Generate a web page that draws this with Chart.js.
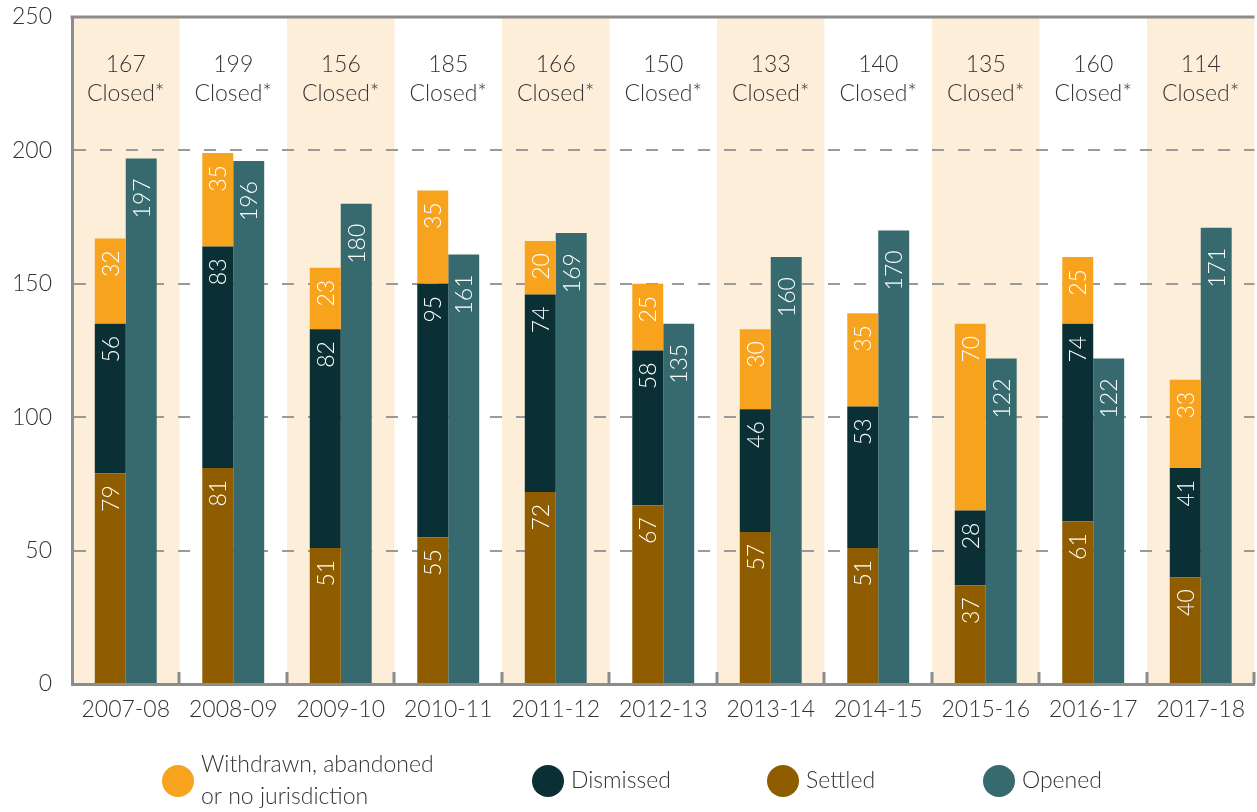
<!DOCTYPE html>
<html>
<head>
<meta charset="utf-8">
<script src="https://cdn.jsdelivr.net/npm/chart.js@4/dist/chart.umd.min.js"></script>
<style>
  html, body { margin: 0; padding: 0; background: #fff; }
  #wrap { width: 1257px; height: 812px; }
</style>
</head>
<body>
<div id="wrap"><canvas id="chart" width="1257" height="812"></canvas></div>
<script>
// data
const years = ['2007-08', '2008-09', '2009-10', '2010-11', '2011-12', '2012-13', '2013-14', '2014-15', '2015-16', '2016-17', '2017-18'];
const settled = [79, 81, 51, 55, 72, 67, 57, 51, 37, 61, 40];
const dismissed = [56, 83, 82, 95, 74, 58, 46, 53, 28, 74, 41];
const withdrawn = [32, 35, 23, 35, 20, 25, 30, 35, 70, 25, 33];
const opened = [197, 196, 180, 161, 169, 135, 160, 170, 122, 122, 171];
const closedTotals = [167, 199, 156, 185, 166, 150, 133, 140, 135, 160, 114];
const yTicks = [0, 50, 100, 150, 200, 250];

const FONT = 'Lato, "Open Sans", sans-serif';
const WEIGHT = '300';
const TEXT = '#333333';
const AXIS = '#8c8c8c';
const BAND = '#fdeeda';

const colors = {
  withdrawn: '#f8a31e',
  dismissed: '#0a3035',
  settled: '#8f5d00',
  opened: '#376a6e'
};

// legend entries (label lines + x position of the dot)
const legendItems = [
  { lines: ['Withdrawn, abandoned', 'or no jurisdiction'], color: colors.withdrawn, x: 178 },
  { lines: ['Dismissed'], color: colors.dismissed, x: 548 },
  { lines: ['Settled'], color: colors.settled, x: 783 },
  { lines: ['Opened'], color: colors.opened, x: 999 }
];

// alternating shaded columns + top "Closed*" captions
const bandsPlugin = {
  id: 'bands',
  beforeDraw(chart) {
    const { ctx, chartArea, scales } = chart;
    const xs = scales.x;
    const cw = xs.getPixelForValue(1) - xs.getPixelForValue(0);
    ctx.save();
    ctx.fillStyle = BAND;
    years.forEach((y, i) => {
      if (i % 2 !== 0) return;
      const cx = xs.getPixelForValue(i);
      const left = Math.max(cx - cw / 2, chartArea.left);
      const right = Math.min(cx + cw / 2, chartArea.right);
      ctx.fillRect(left, chartArea.top, right - left, chartArea.bottom - chartArea.top);
    });
    ctx.restore();
  },
  afterDraw(chart) {
    const { ctx, chartArea, scales } = chart;
    const xs = scales.x;
    const cw = xs.getPixelForValue(1) - xs.getPixelForValue(0);
    ctx.save();
    // top frame line
    ctx.strokeStyle = AXIS;
    ctx.lineWidth = 3;
    ctx.beginPath();
    ctx.moveTo(chartArea.left - 1.5, chartArea.top);
    ctx.lineTo(chartArea.right, chartArea.top);
    ctx.stroke();
    // little ticks between categories on the x axis
    for (let i = 1; i <= years.length; i++) {
      const bx = Math.round(xs.getPixelForValue(i - 1) + cw / 2);
      ctx.beginPath();
      ctx.moveTo(bx, chartArea.bottom);
      ctx.lineTo(bx, chartArea.bottom - 12);
      ctx.stroke();
    }
    // captions
    ctx.fillStyle = TEXT;
    ctx.font = WEIGHT + ' 23px ' + FONT;
    ctx.textAlign = 'center';
    ctx.textBaseline = 'middle';
    closedTotals.forEach((v, i) => {
      const cx = xs.getPixelForValue(i);
      ctx.fillText(String(v), cx, chartArea.top + 48);
      ctx.fillText('Closed*', cx, chartArea.top + 77);
    });
    // legend
    ctx.textAlign = 'left';
    const ly = 781;
    legendItems.forEach(item => {
      ctx.fillStyle = item.color;
      ctx.beginPath();
      ctx.arc(item.x, ly, 16, 0, Math.PI * 2);
      ctx.fill();
      ctx.fillStyle = TEXT;
      const n = item.lines.length;
      item.lines.forEach((line, k) => {
        ctx.fillText(line, item.x + 23, ly + (k - (n - 1) / 2) * 32);
      });
    });
    ctx.restore();
  }
};

// white rotated numbers inside the bars
const valueLabels = {
  id: 'valueLabels',
  afterDatasetsDraw(chart) {
    const { ctx } = chart;
    ctx.save();
    ctx.fillStyle = '#ffffff';
    ctx.font = WEIGHT + ' 23px ' + FONT;
    ctx.textAlign = 'right';
    ctx.textBaseline = 'middle';
    chart.data.datasets.forEach((ds, di) => {
      const meta = chart.getDatasetMeta(di);
      const gap = ds.stack === 'opened' ? 20 : 12;
      meta.data.forEach((bar, i) => {
        const p = bar.getProps(['x', 'y'], true);
        ctx.save();
        ctx.translate(p.x + 1, p.y + gap);
        ctx.rotate(-Math.PI / 2);
        ctx.fillText(String(ds.data[i]), 0, 0);
        ctx.restore();
      });
    });
    ctx.restore();
  }
};

new Chart(document.getElementById('chart'), {
  type: 'bar',
  data: {
    labels: years,
    datasets: [
      { label: 'Settled', data: settled, backgroundColor: colors.settled, stack: 'closed' },
      { label: 'Dismissed', data: dismissed, backgroundColor: colors.dismissed, stack: 'closed' },
      { label: 'Withdrawn, abandoned or no jurisdiction', data: withdrawn, backgroundColor: colors.withdrawn, stack: 'closed' },
      { label: 'Opened', data: opened, backgroundColor: colors.opened, stack: 'opened' }
    ]
  },
  options: {
    responsive: false,
    animation: false,
    layout: { padding: 0 },
    datasets: {
      bar: { barPercentage: 1, categoryPercentage: 0.576, borderWidth: 0 }
    },
    plugins: {
      legend: { display: false },
      tooltip: { enabled: false }
    },
    scales: {
      x: {
        stacked: true,
        grid: { display: false, drawTicks: false },
        border: { display: true, color: AXIS, width: 3 },
        ticks: { color: TEXT, font: { family: FONT, size: 23, weight: WEIGHT }, padding: 12, maxRotation: 0, autoSkip: false },
        afterFit(scale) { scale.height = 128; }
      },
      y: {
        stacked: true,
        min: 0,
        max: 250,
        afterBuildTicks(scale) { scale.ticks = yTicks.map(v => ({ value: v })); },
        grid: {
          drawTicks: false,
          lineWidth: 2,
          color: c => (c.tick && (c.tick.value === 0 || c.tick.value === 250)) ? 'rgba(0,0,0,0)' : '#9a9a9a'
        },
        border: { display: true, color: AXIS, width: 3, dash: [12, 14] },
        ticks: { color: TEXT, font: { family: FONT, size: 23, weight: WEIGHT }, padding: 20 },
        afterFit(scale) {
          scale.width = 72;
          scale.paddingTop = 17;
          scale.paddingBottom = 0;
        }
      }
    }
  },
  plugins: [bandsPlugin, valueLabels]
});
</script>
</body>
</html>
